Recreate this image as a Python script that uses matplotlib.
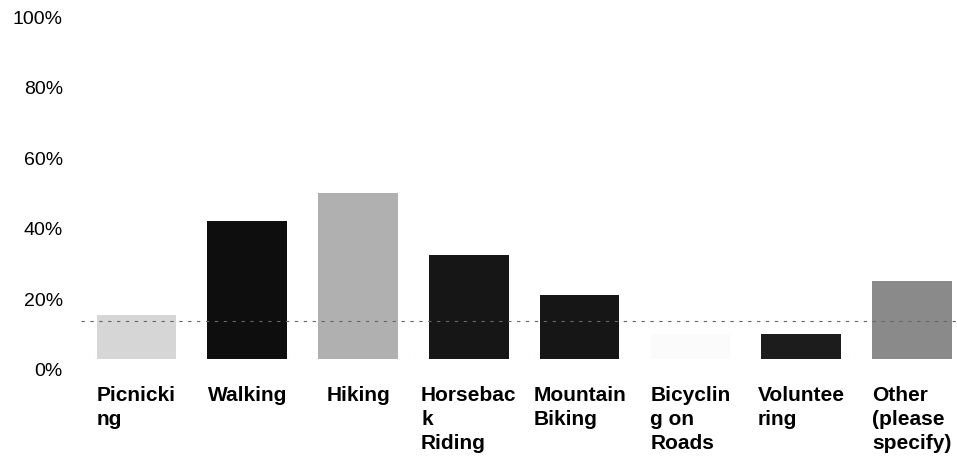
import matplotlib
matplotlib.use("Agg")
import matplotlib.pyplot as plt
from matplotlib.transforms import ScaledTranslation

plt.rcParams['font.family'] = ['Liberation Sans', 'DejaVu Sans']

# data (percent of respondents)
categories = ["Picnicki\nng", "Walking", "Hiking", "Horsebac\nk\nRiding",
              "Mountain\nBiking", "Bicyclin\ng on\nRoads", "Voluntee\nring",
              "Other\n(please\nspecify)"]
values = [12.5, 39, 47, 29.5, 18, 7, 7, 22]
bar_colors = ['#d6d6d6', '#0e0e0e', '#b0b0b0', '#161616', '#161616',
              '#fbfbfb', '#1c1c1c', '#8a8a8a']
y_ticks = [0, 20, 40, 60, 80, 100]
y_ticklabels = ["0%", "20%", "40%", "60%", "80%", "100%"]

fig = plt.figure(figsize=(9.57, 4.60), dpi=100)
ax = fig.add_axes([81 / 957, 100 / 460, 876 / 957, 360 / 460])

x = list(range(len(categories)))
ax.bar(x, values, width=0.72, color=bar_colors, edgecolor='none', zorder=2)

# faint dotted lines from the scan
ax.axhline(10.8, color='#666666', lw=0.8, ls=(0, (3, 5)), zorder=3)
ax.axhline(0, color='#999999', lw=0.8, ls=(0, (1, 5)), zorder=1)

ax.set_xlim(-0.5, 7.406)
ax.set_ylim(0, 102)
for s in ax.spines.values():
    s.set_visible(False)

ax.set_yticks(y_ticks)
ax.set_yticklabels(y_ticklabels, fontsize=14)
ax.tick_params(axis='y', length=0, pad=13)
shift = ScaledTranslation(0, -0.10, fig.dpi_scale_trans)
for lab in ax.get_yticklabels():
    lab.set_transform(lab.get_transform() + shift)

ax.set_xticks(x)
ax.set_xticklabels(categories, fontsize=15, fontweight='bold', linespacing=1.33)
ax.tick_params(axis='x', length=0, pad=19)
for lab in ax.get_xticklabels():
    lab.set_multialignment('left')

fig.savefig("out.png", dpi=100)
